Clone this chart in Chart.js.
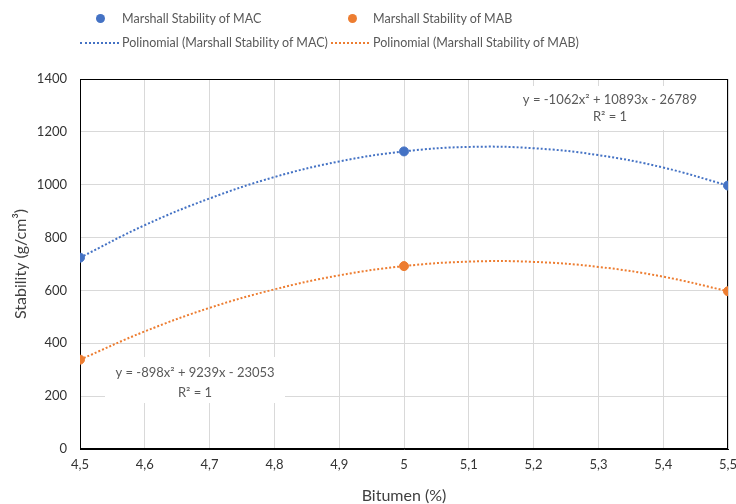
<!DOCTYPE html>
<html>
<head>
<meta charset="utf-8">
<script src="https://cdn.jsdelivr.net/npm/chart.js@4/dist/chart.umd.min.js"></script>
<style>
  body { margin: 0; background: #fff; }
  #wrap { position: relative; width: 736px; height: 504px; font-family: Lato, "Open Sans", sans-serif; }
  #legenda { position: absolute; left: 0; top: 0; width: 736px; height: 60px; font-size: 12.5px; color: #595959; }
  .item { position: absolute; white-space: nowrap; line-height: 16px; }
  .dot { position: absolute; width: 9px; height: 9px; border-radius: 50%; }
  .dash { position: absolute; height: 0; border-top: 2px dotted; }
</style>
</head>
<body>
<div id="wrap">
  <canvas id="grafico" width="736" height="504"></canvas>
  <div id="legenda"></div>
</div>
<script>
// dados
const bitumen = [4.5, 5, 5.5];
const estabilidadeMAC = [724, 1126, 997];
const estabilidadeMAB = [338, 692, 597];

// curvas de tendência (polinomial), lidas a cada 0,1
const bitumenTendencia = [4.5, 4.6, 4.7, 4.8, 4.9, 5.0, 5.1, 5.2, 5.3, 5.4, 5.5];
const tendenciaMAC = [724, 847, 948, 1029, 1088, 1126, 1143, 1138, 1112, 1065, 997];
const tendenciaMAB = [338, 445, 534, 604, 657, 692, 709, 708, 689, 652, 597];

const equacaoMAC = ['y = -1062x² + 10893x - 26789', 'R² = 1'];
const equacaoMAB = ['y = -898x² + 9239x - 23053', 'R² = 1'];

const nomes = ['Marshall Stability of MAC', 'Marshall Stability of MAB',
  'Polinomial (Marshall Stability of MAC)', 'Polinomial (Marshall Stability of MAB)'];

const azul = '#4472C4';
const laranja = '#ED7D31';
const fonte = 'Lato, "Open Sans", sans-serif';

const pares = (xs, ys) => xs.map((x, i) => ({ x: x, y: ys[i] }));

// legenda em html, 2 colunas
const legenda = document.getElementById('legenda');
legenda.innerHTML =
  `<span class="dot" style="left:96px;top:14px;background:${azul}"></span>` +
  `<span class="item" style="left:122px;top:11px">${nomes[0]}</span>` +
  `<span class="dot" style="left:348px;top:14px;background:${laranja}"></span>` +
  `<span class="item" style="left:373px;top:11px">${nomes[1]}</span>` +
  `<span class="dash" style="left:80px;top:42px;width:39px;border-color:${azul}"></span>` +
  `<span class="item" style="left:122px;top:35px">${nomes[2]}</span>` +
  `<span class="dash" style="left:331px;top:42px;width:38px;border-color:${laranja}"></span>` +
  `<span class="item" style="left:373px;top:35px">${nomes[3]}</span>`;

// moldura do gráfico + caixas das equações
const molduraPlugin = {
  id: 'moldura',
  beforeDatasetsDraw(chart) {
    const { ctx, chartArea: a } = chart;
    ctx.save();
    ctx.fillStyle = '#fff';
    ctx.fillRect(a.left + 430, a.top + 7, 205, 44);
    ctx.fillRect(a.left + 25, a.top + 278, 180, 46);
    ctx.strokeStyle = '#000';
    ctx.lineWidth = 1;
    ctx.strokeRect(a.left + 0.5, a.top + 0.5, a.right - a.left - 1, a.bottom - a.top - 1);
    ctx.fillStyle = '#595959';
    ctx.font = '13px ' + fonte;
    ctx.textAlign = 'center';
    ctx.textBaseline = 'middle';
    ctx.fillText(equacaoMAC[0], a.left + 530, a.top + 21);
    ctx.fillText(equacaoMAC[1], a.left + 530, a.top + 38);
    ctx.fillText(equacaoMAB[0], a.left + 115, a.top + 294);
    ctx.fillText(equacaoMAB[1], a.left + 115, a.top + 314);
    ctx.restore();
  }
};

new Chart(document.getElementById('grafico').getContext('2d'), {
  type: 'scatter',
  data: {
    datasets: [
      {
        label: nomes[0],
        data: pares(bitumen, estabilidadeMAC),
        backgroundColor: azul,
        borderColor: azul,
        pointRadius: 4.5,
        showLine: false
      },
      {
        label: nomes[1],
        data: pares(bitumen, estabilidadeMAB),
        backgroundColor: laranja,
        borderColor: laranja,
        pointRadius: 4.5,
        showLine: false
      },
      {
        label: nomes[2],
        data: pares(bitumenTendencia, tendenciaMAC),
        borderColor: azul,
        borderWidth: 2,
        borderDash: [2, 2],
        pointRadius: 0,
        showLine: true,
        tension: 0.4
      },
      {
        label: nomes[3],
        data: pares(bitumenTendencia, tendenciaMAB),
        borderColor: laranja,
        borderWidth: 2,
        borderDash: [2, 2],
        pointRadius: 0,
        showLine: true,
        tension: 0.4
      }
    ]
  },
  options: {
    responsive: false,
    animation: false,
    layout: { padding: { top: 79, right: 8, left: 0, bottom: 0 } },
    plugins: {
      legend: { display: false },
      tooltip: { enabled: false }
    },
    scales: {
      x: {
        type: 'linear',
        min: 4.5,
        max: 5.5,
        afterFit: s => { s.height = 55; s.paddingLeft = 0; s.paddingRight = 0; },
        ticks: {
          stepSize: 0.1,
          padding: 8,
          color: '#333',
          font: { family: fonte, size: 13 },
          callback: v => String(Number(v.toFixed(1))).replace('.', ',')
        },
        grid: { color: '#D9D9D9', drawTicks: false },
        border: { color: '#000' },
        title: {
          display: true,
          text: 'Bitumen (%)',
          color: '#404040',
          font: { family: fonte, size: 16, lineHeight: 1 },
          padding: { top: 0, bottom: 0 }
        }
      },
      y: {
        min: 0,
        max: 1400,
        afterFit: s => { s.width = 80; },
        ticks: {
          stepSize: 200,
          padding: 13,
          color: '#333',
          font: { family: fonte, size: 13 },
          callback: v => String(v)
        },
        grid: { color: '#D9D9D9', drawTicks: false },
        border: { color: '#000' },
        title: {
          display: true,
          text: 'Stability (g/cm³)',
          color: '#404040',
          font: { family: fonte, size: 16, lineHeight: 1 },
          padding: { top: 13, bottom: 0 }
        }
      }
    }
  },
  plugins: [molduraPlugin]
});
</script>
</body>
</html>
